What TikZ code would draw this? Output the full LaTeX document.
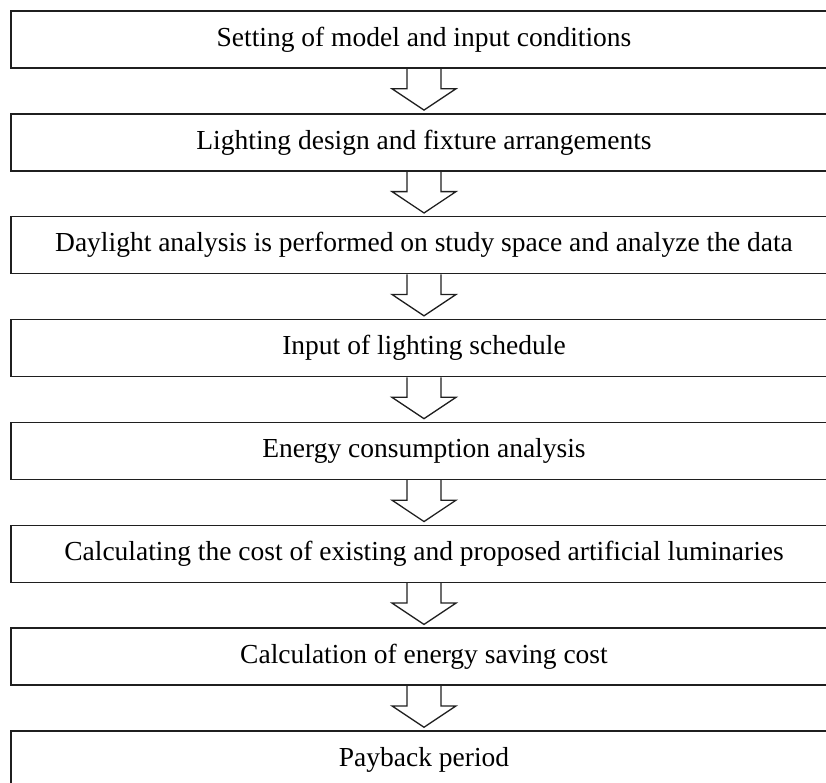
\documentclass[tikz,border=0pt]{standalone}
\usepackage{fontspec}
\setmainfont{Liberation Serif}
\usetikzlibrary{calc}
\begin{document}
\begin{tikzpicture}[x=1pt,y=1pt,
  stepbox/.style={draw=black!88, line width=1.5pt, minimum width=826pt, minimum height=57pt, inner sep=0pt,
    font=\fontsize{27.5}{33}\selectfont},
  flowarrow/.style={draw=black!88, line width=1.3pt, line join=miter}]
\useasboundingbox (0,0) rectangle (826,-783);
\begin{scope}
\clip (0,0) rectangle (826,-783);
\foreach \i/\t in {1/{Setting of model and input conditions},
  2/{Lighting design and fixture arrangements},
  3/{Daylight analysis is performed on study space and analyze the data},
  4/{Input of lighting schedule},
  5/{Energy consumption analysis},
  6/{Calculating the cost of existing and proposed artificial luminaries},
  7/{Calculation of energy saving cost},
  8/{Payback period}} {
  \node[stepbox] (b\i) at (424, {-(11+28.5+(\i-1)*102.86)}) {\t};
}
\foreach \i [evaluate=\i as \j using int(\i+1)] in {1,...,7} {
  \draw[flowarrow] ($(b\i.south)+(-17,0)$) -- ++(0,-20) -- ++(-15,0) -- ($(b\j.north)+(0,3)$)
    -- ($(b\i.south)+(32,-20)$) -- ++(-15,0) -- ($(b\i.south)+(17,0)$);
}
\end{scope}
\end{tikzpicture}
\end{document}
